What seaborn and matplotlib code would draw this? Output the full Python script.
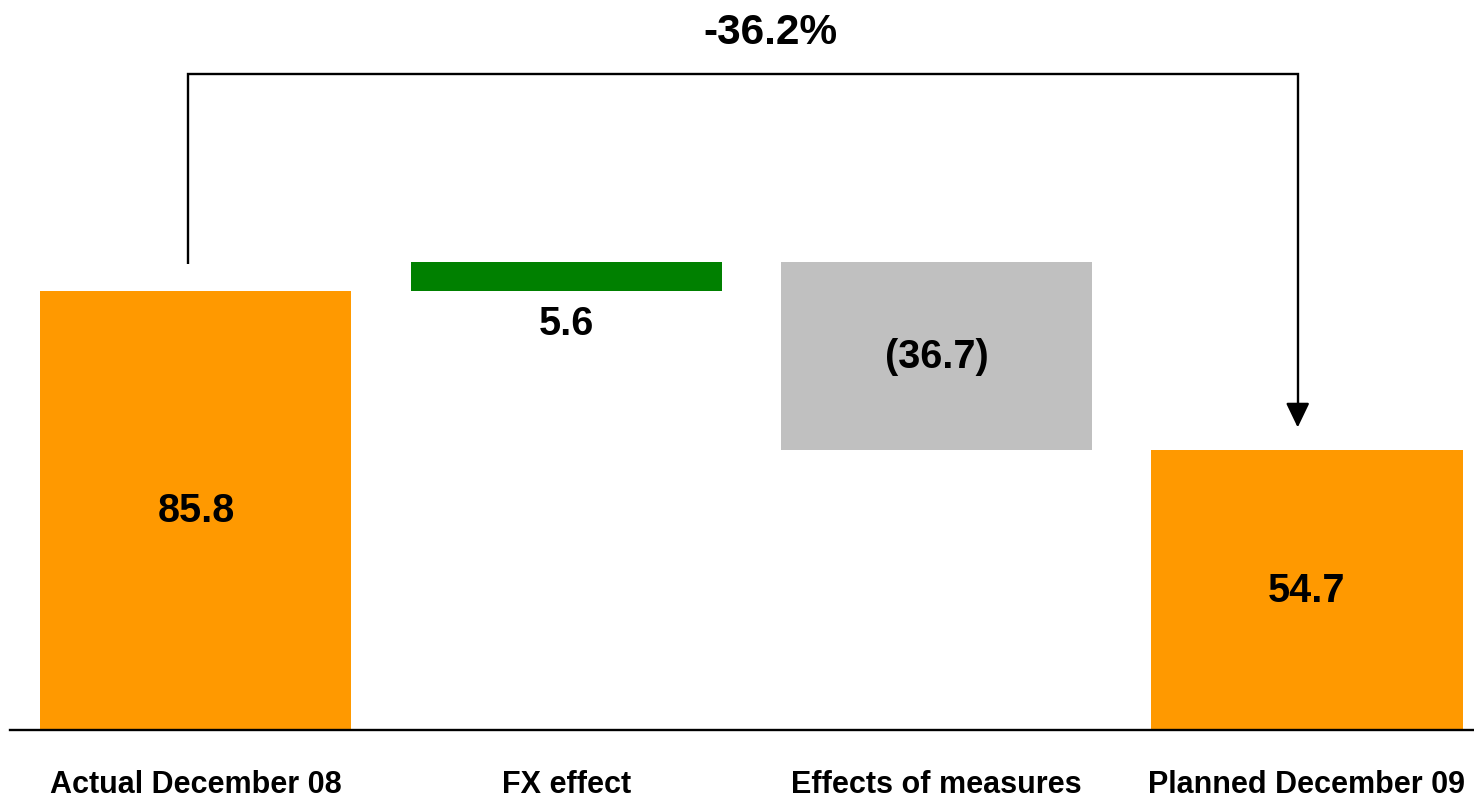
import matplotlib
matplotlib.use("Agg")
import matplotlib.pyplot as plt
import seaborn as sns

# Waterfall: December 08 actual -> December 09 plan
categories = ["Actual December 08", "FX effect", "Effects of measures", "Planned December 09"]
start_value = 85.8
fx_effect = 5.6
measures_effect = -36.7
end_value = 54.7
bar_colors = ["#FF9900", "#008000", "#C0C0C0", "#FF9900"]

heights = [start_value, fx_effect, abs(measures_effect), end_value]
bottoms = [0, start_value, start_value + fx_effect + measures_effect, 0]
labels = [f"{start_value:.1f}", f"{fx_effect:.1f}",
          f"({abs(measures_effect):.1f})", f"{end_value:.1f}"]
pct_change = (end_value - start_value) / start_value * 100

sns.set_theme(style="white")
plt.rcParams["font.family"] = ["Liberation Sans", "DejaVu Sans"]
plt.rcParams["font.weight"] = "bold"

fig = plt.figure(figsize=(14.74, 8.03), dpi=100)
ax = fig.add_axes([10 / 1474, 72 / 803, 1464 / 1474, 731 / 803])

sns.barplot(x=categories, y=heights, hue=categories, palette=bar_colors,
            legend=False, width=0.84, saturation=1, ax=ax)

# lift the floating bars onto their running totals
for patch, base in zip(ax.patches, bottoms):
    patch.set_y(base)
    patch.set_edgecolor("none")

ax.set_xlim(-0.502, 3.451)
ax.set_ylim(0, 142.8)

# value labels
for i, (lab, base, h) in enumerate(zip(labels, bottoms, heights)):
    if i == 1:
        y = base - 6.2
    else:
        y = base + h / 2
    ax.text(i, y, lab, ha="center", va="center", fontsize=28.5, fontweight="bold", color="black")

# bracket showing the overall change
x_left, x_right = 0 - 0.022, 3 - 0.025
y_from, y_top, y_to = start_value + fx_effect - 0.4, 128.1, end_value + 4.4
ax.plot([x_left, x_left, x_right, x_right], [y_from, y_top, y_top, y_to + 3],
        color="black", lw=1.7, solid_capstyle="butt", solid_joinstyle="miter")
ax.annotate("", xy=(x_right, y_to), xytext=(x_right, y_to + 3.5),
            arrowprops=dict(arrowstyle="-|>,head_length=0.75,head_width=0.36",
                            color="black", lw=1.7, shrinkA=0, shrinkB=0,
                            mutation_scale=20))
ax.text((x_left + x_right) / 2 + 0.075, 136.3, f"{pct_change:.1f}%", ha="center", va="center",
        fontsize=30.5, fontweight="bold", color="black")

sns.despine(ax=ax, left=True, top=True, right=True)
ax.spines["bottom"].set_color("black")
ax.spines["bottom"].set_linewidth(1.7)
ax.set_yticks([])
ax.set_xlabel("")
ax.set_ylabel("")
ax.tick_params(axis="x", length=0, pad=28, labelsize=22, labelcolor="black")
for t in ax.get_xticklabels():
    t.set_fontweight("bold")
ax.set_facecolor("white")
fig.patch.set_facecolor("white")

fig.savefig("out.png", dpi=100, facecolor="white")
